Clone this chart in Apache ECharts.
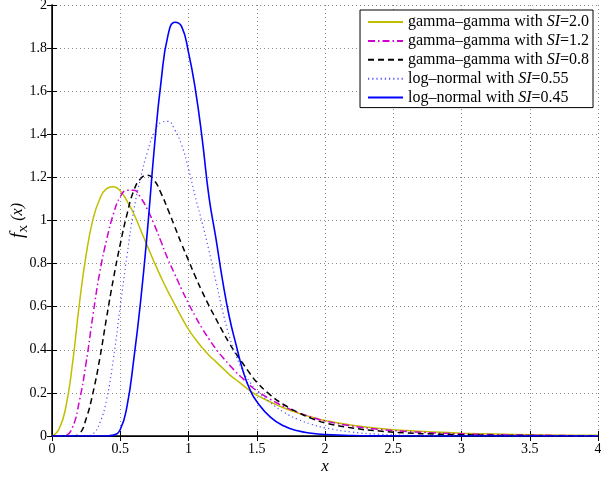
<!DOCTYPE html>
<html>
<head>
<meta charset="utf-8">
<script src="https://cdn.jsdelivr.net/npm/echarts@6/dist/echarts.min.js"></script>
<style>html,body{margin:0;padding:0;background:#fff;}#c{width:601px;height:477px;}</style>
</head>
<body>
<div id="c"></div>
<script>
var xGrid = [0,0.05,0.1,0.15,0.2,0.25,0.3,0.35,0.4,0.45,0.5,0.55,0.6,0.65,0.7,0.75,0.8,0.85,0.9,0.95,1.0,1.05,1.1,1.15,1.2,1.25,1.3,1.35,1.4,1.45,1.5,1.6,1.7,1.8,1.9,2.0,2.2,2.4,2.6,2.8,3.0,3.25,3.5,3.75,4.0];
var ggSI20 = [0,0.03,0.13,0.335,0.61,0.84,1.005,1.10,1.148,1.157,1.137,1.09,1.03,0.955,0.88,0.805,0.735,0.67,0.61,0.55,0.495,0.45,0.41,0.375,0.345,0.315,0.285,0.26,0.235,0.21,0.19,0.158,0.13,0.107,0.088,0.072,0.05,0.035,0.025,0.018,0.013,0.009,0.006,0.004,0.003];
var ggSI12 = [0,0,0.003,0.04,0.16,0.34,0.56,0.76,0.91,1.03,1.11,1.14,1.14,1.105,1.05,0.98,0.9,0.82,0.75,0.68,0.615,0.555,0.5,0.45,0.405,0.365,0.33,0.295,0.265,0.235,0.21,0.17,0.137,0.11,0.088,0.07,0.046,0.031,0.021,0.014,0.01,0.006,0.004,0.002,0.001];
var ggSI08 = [0,0,0,0,0.01,0.08,0.2,0.36,0.55,0.73,0.89,1.03,1.14,1.195,1.21,1.185,1.125,1.05,0.97,0.89,0.815,0.74,0.67,0.605,0.545,0.485,0.43,0.38,0.335,0.29,0.25,0.19,0.145,0.11,0.082,0.061,0.037,0.023,0.014,0.009,0.006,0.003,0.002,0.001,0];
var lnSI055 = [0,0,0,0,0,0,0.01,0.06,0.17,0.36,0.6,0.84,1.05,1.2,1.32,1.41,1.455,1.46,1.42,1.35,1.24,1.11,0.99,0.86,0.72,0.58,0.46,0.37,0.3,0.25,0.21,0.155,0.11,0.078,0.055,0.038,0.018,0.008,0.003,0.001,0,0,0,0,0];
var lnSI045 = [0,0,0,0,0,0,0,0,0,0.004,0.03,0.14,0.36,0.63,0.96,1.34,1.65,1.86,1.92,1.9,1.78,1.61,1.38,1.11,0.92,0.72,0.55,0.42,0.3,0.215,0.16,0.088,0.046,0.024,0.013,0.007,0.002,0.0005,0,0,0,0,0,0,0];
var xTicks = ['0','0.5','1','1.5','2','2.5','3','3.5','4'];
var yTicks = ['0','0.2','0.4','0.6','0.8','1','1.2','1.4','1.6','1.8','2'];
var seriesNames = ['gamma–gamma with SI=2.0','gamma–gamma with SI=1.2','gamma–gamma with SI=0.8','log–normal with SI=0.55','log–normal with SI=0.45'];

function pairs(ys){ return xGrid.map(function(x,i){ return [x, ys[i]]; }); }
var FONT = '"Liberation Serif","Times New Roman",serif';

var styles = [
  {color:'#bfbf00', width:1.5, type:'solid'},
  {color:'#d000d0', width:1.5, type:[7,3,1.5,3]},
  {color:'#000000', width:1.5, type:[6,4]},
  {color:'#5050ff', width:1.2, type:[1.2,3]},
  {color:'#0000ff', width:1.6, type:'solid'}
];
var datas = [ggSI20, ggSI12, ggSI08, lnSI055, lnSI045];

var series = datas.map(function(d,i){
  return {
    name: seriesNames[i], type:'line', data: pairs(d), showSymbol:false, symbol:'none',
    smooth:0.5, clip:true,
    lineStyle:{color:styles[i].color, width:styles[i].width, type:styles[i].type},
    itemStyle:{color:styles[i].color}, z: 3+i
  };
});

var gridLine = {show:true, lineStyle:{color:'#8a8a8a', width:1, type:[1,3]}};
var chart = echarts.init(document.getElementById('c'), null, {renderer:'canvas'});
chart.setOption({
  animation:false,
  backgroundColor:'#fff',
  grid:{left:52, right:3, top:5, bottom:41, containLabel:false, outerBoundsMode:'none'},
  legend:{
    orient:'vertical', right:8, top:10, itemWidth:35, itemHeight:14, itemGap:2.9,
    padding:[4,4,2,7], backgroundColor:'#fff', borderColor:'#000', borderWidth:1,
    itemStyle:{opacity:0},
    data: seriesNames,
    formatter:function(n){ return n.replace('SI','{i|SI}'); },
    textStyle:{fontFamily:FONT, fontSize:16, color:'#000', lineHeight:14,
      rich:{i:{fontFamily:FONT, fontSize:16, fontStyle:'italic', color:'#000', lineHeight:14}}}
  },
  xAxis:[{
    type:'value', min:0, max:4, interval:0.5,
    name:'x', nameLocation:'middle', nameGap:22, nameMoveOverlap:false,
    nameTextStyle:{fontFamily:FONT, fontSize:17, fontStyle:'italic', color:'#000'},
    axisLine:{show:true, lineStyle:{color:'#000', width:1.5}},
    axisTick:{show:true, inside:true, length:5, lineStyle:{color:'#000'}},
    axisLabel:{fontFamily:FONT, fontSize:14, color:'#000', margin:6,
      formatter:function(v){ return xTicks[Math.round(v/0.5)]; }},
    splitLine:gridLine
  },{
    type:'value', min:0, max:4, interval:0.5, position:'top',
    axisLine:{show:true, lineStyle:{color:'#000', width:1}},
    axisTick:{show:true, inside:true, length:5, lineStyle:{color:'#000'}},
    axisLabel:{show:false}, splitLine:{show:false}
  }],
  yAxis:[{
    type:'value', min:0, max:2, interval:0.2,
    name:'{f|f}{s|X}{p| (x)}', nameLocation:'middle', nameGap:22, nameRotate:90, nameMoveOverlap:false,
    nameTextStyle:{fontFamily:FONT, color:'#000', rich:{
      f:{fontFamily:FONT, fontSize:19, fontStyle:'italic', color:'#000', lineHeight:24, verticalAlign:'middle'},
      s:{fontFamily:FONT, fontSize:11, color:'#000', lineHeight:24, verticalAlign:'bottom'},
      p:{fontFamily:FONT, fontSize:16, fontStyle:'italic', color:'#000', lineHeight:24, verticalAlign:'middle'}
    }},
    axisLine:{show:true, lineStyle:{color:'#000', width:1.5}},
    axisTick:{show:true, inside:true, length:5, lineStyle:{color:'#000'}},
    axisLabel:{fontFamily:FONT, fontSize:14, color:'#000', margin:5,
      formatter:function(v){ return yTicks[Math.round(v/0.2)]; }},
    splitLine:gridLine
  },{
    type:'value', min:0, max:2, interval:0.2, position:'right',
    axisLine:{show:true, lineStyle:{color:'#000', width:1}},
    axisTick:{show:true, inside:true, length:5, lineStyle:{color:'#000'}},
    axisLabel:{show:false}, splitLine:{show:false}
  }],
  series: series
});
</script>
</body>
</html>
